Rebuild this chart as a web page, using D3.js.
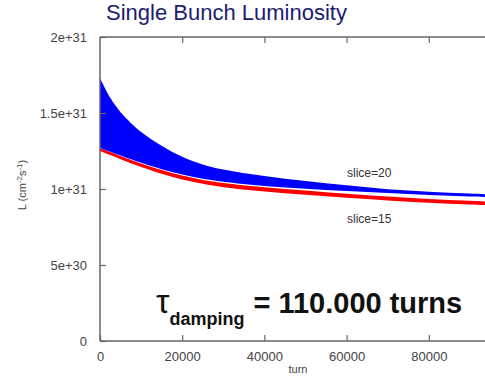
<!DOCTYPE html>
<html>
<head>
<meta charset="utf-8">
<script src="https://cdn.jsdelivr.net/npm/d3@7"></script>
<style>
  html, body { margin: 0; padding: 0; background: #fff; }
  svg { display: block; }
  text { font-family: "Liberation Sans", Arial, sans-serif; }
</style>
</head>
<body>
<div id="chart"></div>
<script>
// ---- data (values in units of 1e30 cm^-2 s^-1) ----
const turns      = [0, 2500, 5000, 7500, 10000, 15000, 20000, 25000, 30000, 40000, 50000, 60000, 70000, 80000, 90000, 100000];
const blueUpper  = [17.3, 16.0, 15.05, 14.35, 13.75, 12.85, 12.12, 11.62, 11.28, 10.85, 10.52, 10.24, 9.98, 9.82, 9.7, 9.6];
const blueLower  = [12.7, 12.45, 12.2, 11.95, 11.72, 11.3, 10.95, 10.68, 10.48, 10.2, 10.02, 9.87, 9.73, 9.61, 9.5, 9.42];
const redUpper   = [12.7, 12.43, 12.17, 11.92, 11.68, 11.25, 10.88, 10.6, 10.4, 10.12, 9.9, 9.69, 9.51, 9.35, 9.22, 9.12];
const redLower   = [12.5, 12.23, 11.96, 11.7, 11.45, 11.0, 10.62, 10.34, 10.12, 9.84, 9.62, 9.42, 9.25, 9.1, 8.98, 8.88];
const xTicks     = [0, 20000, 40000, 60000, 80000];
const yTicks     = [0, 5, 10, 15, 20];
const yTickLabels = ["0", "5e+30", "1e+31", "1.5e+31", "2e+31"];

const W = 485, H = 382;
const svg = d3.select("#chart").append("svg").attr("width", W).attr("height", H);

const x = d3.scaleLinear().domain([0, 100000]).range([100, 511]);
const y = d3.scaleLinear().domain([0, 20]).range([341, 37]);

const axisColor = "#666";
const labelColor = "#444";

svg.append("defs").append("clipPath").attr("id", "plotclip")
  .append("rect").attr("x", 100).attr("y", 37).attr("width", 411).attr("height", 304);

const pts = turns.map((t, i) => ({t, bu: blueUpper[i], bl: blueLower[i], ru: redUpper[i], rl: redLower[i]}));

const g = svg.append("g").attr("clip-path", "url(#plotclip)");
g.append("path").datum(pts)
  .attr("fill", "#ff0000")
  .attr("d", d3.area().curve(d3.curveCatmullRom).x(d => x(d.t)).y0(d => y(d.rl)).y1(d => y(d.ru)));
g.append("path").datum(pts)
  .attr("fill", "#0000ff")
  .attr("d", d3.area().curve(d3.curveCatmullRom).x(d => x(d.t)).y0(d => y(d.bl)).y1(d => y(d.bu)));

// frame
svg.append("line").attr("x1", x(0)).attr("x2", 511).attr("y1", y(0)).attr("y2", y(0))
  .attr("stroke", axisColor).attr("stroke-width", 1.5);
svg.append("line").attr("x1", x(0)).attr("x2", 511).attr("y1", y(20)).attr("y2", y(20))
  .attr("stroke", axisColor).attr("stroke-width", 1.5);
svg.append("line").attr("x1", x(0)).attr("x2", x(0)).attr("y1", y(0)).attr("y2", y(20))
  .attr("stroke", axisColor).attr("stroke-width", 1.5);

// bottom axis
const xb = svg.append("g").attr("transform", `translate(0,${y(0)})`)
  .call(d3.axisBottom(x).tickValues(xTicks).tickSizeInner(-6).tickSizeOuter(0).tickPadding(11).tickFormat(d3.format("d")));
xb.select(".domain").remove();
xb.selectAll("line").attr("stroke", axisColor).attr("stroke-width", 1.2);
xb.selectAll("text").attr("fill", labelColor).attr("font-size", 13).attr("font-family", "Liberation Sans, Arial, sans-serif");

// top mirror ticks
const xt = svg.append("g").attr("transform", `translate(0,${y(20)})`)
  .call(d3.axisTop(x).tickValues(xTicks.filter(d => d > 0)).tickSizeInner(-6).tickSizeOuter(0).tickFormat(""));
xt.select(".domain").remove();
xt.selectAll("line").attr("stroke", axisColor).attr("stroke-width", 1.2);

// left axis
const yl = svg.append("g").attr("transform", `translate(${x(0)},0)`)
  .call(d3.axisLeft(y).tickValues(yTicks).tickSizeInner(-6).tickSizeOuter(0).tickPadding(13)
    .tickFormat((d, i) => yTickLabels[i]));
yl.select(".domain").remove();
yl.selectAll("line").attr("stroke", axisColor).attr("stroke-width", 1.2);
yl.selectAll("text").attr("fill", labelColor).attr("font-size", 13).attr("font-family", "Liberation Sans, Arial, sans-serif");

// title
svg.append("text").attr("x", 106).attr("y", 20).attr("font-size", 22)
  .attr("fill", "#1c1c70").text("Single Bunch Luminosity");

// axis titles
svg.append("text").attr("x", 298).attr("y", 373).attr("text-anchor", "middle")
  .attr("font-size", 11).attr("fill", labelColor).text("turn");

const yt = svg.append("text").attr("transform", "translate(26,185) rotate(-90)")
  .attr("text-anchor", "middle").attr("font-size", 11).attr("fill", labelColor);
yt.append("tspan").text("L (cm");
yt.append("tspan").attr("font-size", 8).attr("dy", -4).text("-2");
yt.append("tspan").attr("dy", 4).text("s");
yt.append("tspan").attr("font-size", 8).attr("dy", -4).text("-1");
yt.append("tspan").attr("dy", 4).text(")");

// series labels
svg.append("text").attr("x", 347).attr("y", 177).attr("font-size", 12).attr("fill", "#333").text("slice=20");
svg.append("text").attr("x", 347).attr("y", 223).attr("font-size", 12).attr("fill", "#333").text("slice=15");

// annotation
const ann = svg.append("text").attr("x", 156).attr("y", 313).attr("font-weight", "bold").attr("fill", "#111");
ann.append("tspan").attr("font-size", 34).attr("font-weight", "normal").text("τ");
ann.append("tspan").attr("font-size", 18).attr("dy", 12).text("damping");
ann.append("tspan").attr("font-size", 29).attr("dy", -12).attr("dx", 9).text("= 110.000 turns");
</script>
</body>
</html>
